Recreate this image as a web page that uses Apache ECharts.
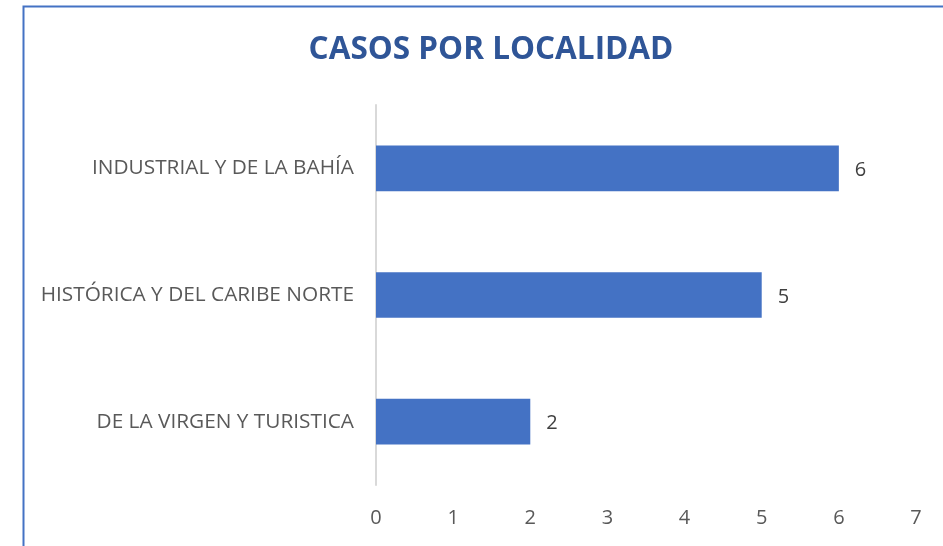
<!DOCTYPE html>
<html>
<head>
<meta charset="utf-8">
<script src="https://cdn.jsdelivr.net/npm/echarts@6/dist/echarts.min.js"></script>
<style>
html,body{margin:0;padding:0;background:#fff;}
#c{width:943px;height:546px;}
</style>
</head>
<body>
<div id="c"></div>
<script>
const categories = ["DE LA VIRGEN Y TURISTICA", "HISTÓRICA Y DEL CARIBE NORTE", "INDUSTRIAL Y DE LA BAHÍA"];
const values = [2, 5, 6];
const titleText = "CASOS POR LOCALIDAD";

const chart = echarts.init(document.getElementById('c'));
chart.setOption({
  animation: false,
  backgroundColor: '#fff',
  title: {
    text: titleText,
    left: 486, textAlign: 'center',
    top: 29,
    textStyle: {fontFamily: 'Open Sans', fontWeight: 'bold', fontSize: 31.5, color: '#2f5597'}
  },
  graphic: [{
    type: 'rect', left: 21, top: 4, silent: true,
    shape: {width: 1000, height: 600},
    style: {fill: 'none', stroke: '#4472c4', lineWidth: 2}
  }],
  grid: {left: 376, right: 27, top: 105, bottom: 61},
  xAxis: {
    type: 'value', min: 0, max: 7, interval: 1,
    splitLine: {show: false},
    axisLine: {show: false}, axisTick: {show: false},
    axisLabel: {fontFamily: 'Open Sans', fontSize: 20, color: '#595959', margin: 23}
  },
  yAxis: {
    type: 'category', data: categories,
    axisLine: {show: true, lineStyle: {color: '#d9d9d9', width: 2}},
    axisTick: {show: false},
    axisLabel: {fontFamily: 'Open Sans', fontSize: 20.8, color: '#595959', margin: 22}
  },
  series: [{
    type: 'bar', data: values,
    barCategoryGap: '64%',
    itemStyle: {color: '#4472c4'},
    label: {show: true, position: 'right', distance: 16, offset: [0, 2], fontFamily: 'Open Sans', fontSize: 20, color: '#404040'}
  }]
});
</script>
</body>
</html>
